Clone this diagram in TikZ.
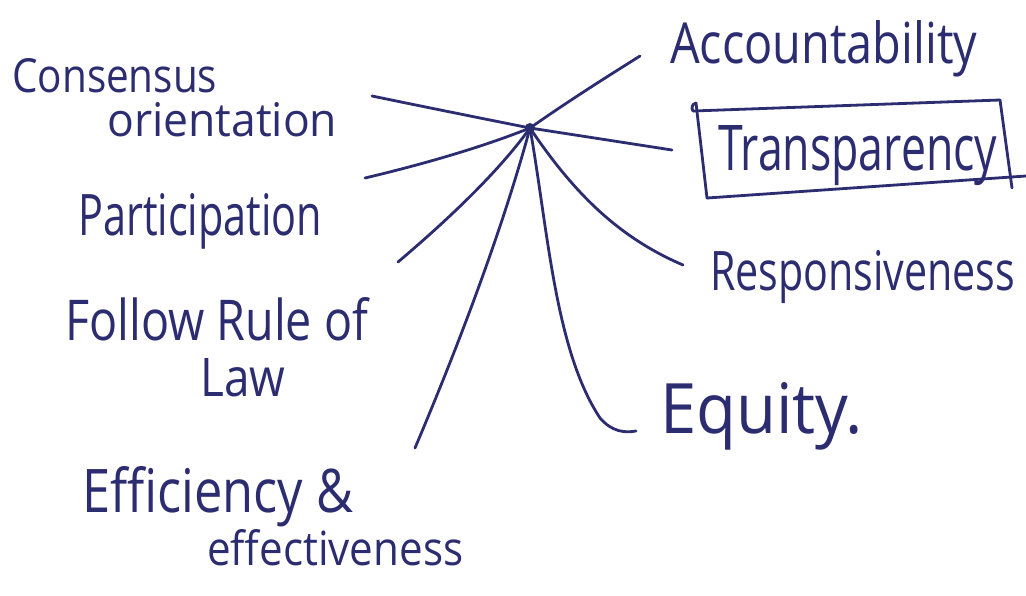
\documentclass[tikz,border=0pt]{standalone}
\usepackage{fontspec}
\setmainfont{Open Sans}
\usepackage{graphicx}
\definecolor{ink}{RGB}{44,44,112}
\newcommand\handw[3]{\resizebox{#1pt}{#2pt}{#3}}
\begin{document}
\begin{tikzpicture}[x=1pt,y=-1pt,
  pen/.style={draw=ink, line width=2.8pt, line cap=round, line join=round},
  lbl/.style={text=ink, inner sep=0pt, anchor=base west}]
\useasboundingbox (0,0) rectangle (1026,595);
\fill[white] (0,0) rectangle (1026,595);

% centre of the star
\node[circle, fill=ink, inner sep=0pt, minimum size=10pt] (hub) at (530,128) {};

% labels
\node[lbl] (acc)  at (670,63)  {\handw{307}{43}{Accountability}};
\node[lbl] (tra)  at (718,170) {\handw{279}{45}{Transparency}};
\node[lbl] (con1) at (12,92)   {\handw{205}{34}{Consensus}};
\node[lbl] (con2) at (107,136) {\handw{230}{34}{orientation}};
\node[lbl] (par)  at (78,235)  {\handw{244}{42}{Participation}};
\node[lbl] (fol1) at (65,340)  {\handw{303}{43}{Follow Rule of}};
\node[lbl] (fol2) at (200,396) {\handw{85}{38}{Law}};
\node[lbl] (eff1) at (82,512)  {\handw{271}{46}{Efficiency \&}};
\node[lbl] (eff2) at (207,565) {\handw{256}{36}{effectiveness}};
\node[lbl] (res)  at (710,290) {\handw{305}{40}{Responsiveness}};
\node[lbl] (equ)  at (660,433) {\handw{203}{51}{Equity.}};

% free ends of the spokes
\coordinate (eAcc) at (640,56);
\coordinate (eTra) at (672,150);
\coordinate (eCon) at (372,96);
\coordinate (ePar) at (365,178);
\coordinate (eFol) at (398,262);
\coordinate (eEff) at (415,448);
\coordinate (eRes) at (683,265);
\coordinate (eEqu) at (636,431);

% spokes
\draw[pen] (hub.center) .. controls (570,100) and (605,78) .. (eAcc);
\draw[pen] (hub.center) -- (eTra);
\draw[pen] (eCon) .. controls (430,108) and (480,118) .. (hub.center);
\draw[pen] (ePar) .. controls (420,165) and (480,148) .. (hub.center);
\draw[pen] (eFol) .. controls (450,218) and (500,170) .. (hub.center);
\draw[pen] (eEff) .. controls (465,330) and (505,220) .. (hub.center);
\draw[pen] (hub.center) .. controls (575,195) and (620,238) .. (eRes);
\draw[pen] (hub.center) .. controls (548,230) and (555,350) .. (600,418)
           .. controls (612,432) and (625,433) .. (eEqu);

% hand-drawn frame round Transparency
\coordinate (bTL) at (696,103);
\coordinate (bTR) at (1000,100);
\coordinate (bBL) at (707,198);
\coordinate (bBR) at (1012,188);
\coordinate (bEnd) at (1026,176);
\draw[pen] (693,111) -- (bTR);
\draw[pen] (bTL) -- (bBL);
\draw[pen] (bBL) -- (bEnd);
\draw[pen] (bTR) -- (bBR);
\draw[pen] (bTL) .. controls (692,104) and (691,108) .. (693,111);
\end{tikzpicture}
\end{document}
